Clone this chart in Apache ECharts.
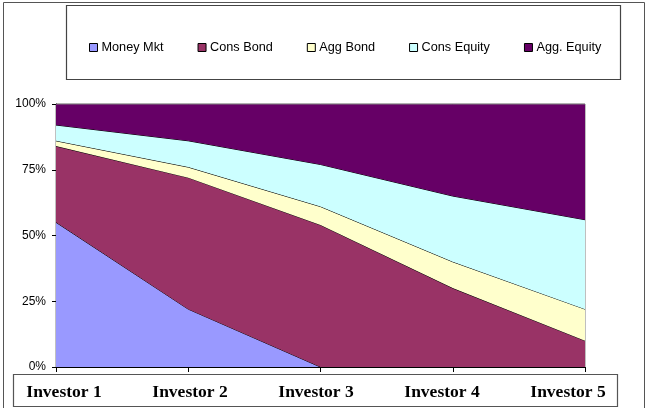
<!DOCTYPE html>
<html>
<head>
<meta charset="utf-8">
<script src="https://cdn.jsdelivr.net/npm/echarts@6/dist/echarts.min.js"></script>
<style>html,body{margin:0;padding:0;background:#fff;}#c{width:648px;height:408px;}</style>
</head>
<body>
<div id="c"></div>
<script>
var categories = ['Investor 1', 'Investor 2', 'Investor 3', 'Investor 4', 'Investor 5'];
var seriesNames = ['Money Mkt', 'Cons Bond', 'Agg Bond', 'Cons Equity', 'Agg. Equity'];
var moneyMkt = [55, 22, 0, 0, 0];
var consBond = [29, 50, 54, 30, 10];
var aggBond = [2, 4, 7, 10, 12];
var consEquity = [6, 10, 16, 25, 34];
var aggEquity = [8, 14, 23, 35, 44];
var yTicks = [0, 25, 50, 75, 100];
var colors = ['#9999FF', '#993366', '#FFFFCC', '#CCFFFF', '#660066'];

var values = [moneyMkt, consBond, aggBond, consEquity, aggEquity];
var chart = echarts.init(document.getElementById('c'), null, {renderer: 'canvas'});

var series = values.map(function (v, i) {
  return {
    name: seriesNames[i],
    type: 'line',
    stack: 'total',
    xAxisIndex: 0,
    yAxisIndex: 0,
    data: v,
    symbol: 'none',
    smooth: false,
    lineStyle: {color: i === 4 ? '#808080' : '#000', width: 1},
    itemStyle: {color: colors[i], borderColor: '#000', borderWidth: 1},
    areaStyle: {color: colors[i], opacity: 1},
    z: 2 + i * 0.01
  };
});

chart.setOption({
  animation: false,
  backgroundColor: '#fff',
  color: colors,
  legend: {
    data: seriesNames,
    left: 84,
    top: 36,
    itemWidth: 8,
    itemHeight: 8,
    itemGap: 34,
    icon: 'rect',
    z: 20,
    textStyle: {fontFamily: 'Liberation Sans, Arial, sans-serif', fontSize: 12.7, color: '#000', padding: [0, 0, 0, -1]},
    itemStyle: {borderColor: '#000', borderWidth: 1}
  },
  graphic: [
    {type: 'rect', z: -10, silent: true, shape: {x: 3.5, y: 2.5, width: 641, height: 410}, style: {fill: '#fff', stroke: '#555', lineWidth: 1}},
    {type: 'rect', z: 1, silent: true, shape: {x: 66.5, y: 5.5, width: 554, height: 74}, style: {fill: '#fff', stroke: '#444', lineWidth: 1.2}},
    {type: 'rect', z: 50, silent: true, shape: {x: 13.5, y: 374.5, width: 604, height: 32}, style: {fill: '#fff', stroke: '#555', lineWidth: 1.2}}
  ],
  grid: [
    {left: 56, right: 63, top: 104, bottom: 41, show: true, borderColor: '#808080', borderWidth: 1, backgroundColor: 'transparent'},
    {left: 1, right: 17, top: 360, height: 20, show: false}
  ],
  xAxis: [
    {
      type: 'category', gridIndex: 0, data: categories, boundaryGap: false,
      axisLine: {show: true, lineStyle: {color: '#000', width: 1}},
      axisTick: {show: true, length: 5, lineStyle: {color: '#000'}},
      axisLabel: {show: false},
      splitLine: {show: false}
    },
    {
      type: 'category', gridIndex: 1, data: categories, boundaryGap: true, z: 60,
      axisLine: {show: false}, axisTick: {show: false}, splitLine: {show: false},
      axisLabel: {show: true, margin: 3, fontFamily: 'Liberation Serif, Times New Roman, serif', fontWeight: 'bold', fontSize: 17.5, color: '#000', interval: 0}
    }
  ],
  yAxis: [
    {
      type: 'value', gridIndex: 0, min: yTicks[0], max: yTicks[yTicks.length - 1], interval: 25,
      axisLine: {show: true, lineStyle: {color: '#000', width: 1}},
      axisTick: {show: true, length: 4, lineStyle: {color: '#000'}},
      splitLine: {show: false},
      axisLabel: {margin: 10, formatter: '{value}%', fontFamily: 'Liberation Sans, Arial, sans-serif', fontSize: 12, color: '#000'}
    },
    {type: 'value', gridIndex: 1, show: false}
  ],
  series: series
});
</script>
</body>
</html>
